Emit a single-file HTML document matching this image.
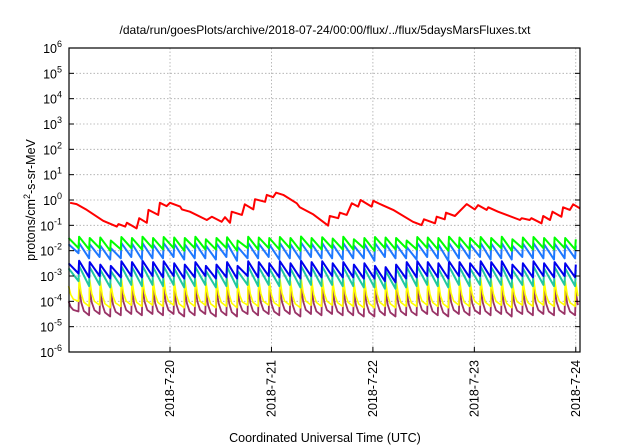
<!DOCTYPE html>
<html><head><meta charset="utf-8"><style>
body{margin:0;background:#fff;}
svg{display:block;font-family:"Liberation Sans",sans-serif;}
</style></head><body>
<svg id="chart" width="640" height="448">
<rect width="640" height="448" fill="#fff"/>
<text x="325" y="34" font-size="12" text-anchor="middle">/data/run/goesPlots/archive/2018-07-24/00:00/flux/../flux/5daysMarsFluxes.txt</text>
<g id="grid"></g>
<g id="series"></g>
<rect x="69" y="48" width="511" height="304" fill="none" stroke="#000" stroke-width="1.2"/>
<g id="axes"></g>
<text transform="translate(35,200) rotate(-90)" font-size="12.5" text-anchor="middle">protons/cm<tspan dy="-5" font-size="9">2</tspan><tspan dy="5">-s-sr-MeV</tspan></text>
<text x="325" y="442" font-size="12.5" text-anchor="middle">Coordinated Universal Time (UTC)</text>
</svg>
<script>
const yExps=[-6,-5,-4,-3,-2,-1,0,1,2,3,4,5,6];
const xTickHours=[24,48,72,96,120];
const xTickLabels=["2018-7-20","2018-7-21","2018-7-22","2018-7-23","2018-7-24"];
const redHours=[0.35,1.9,4.3,8.2,11.4,11.8,13.4,13.8,16.1,16.7,18.5,18.9,21.2,21.6,23.2,24.0,26.4,26.8,28.7,32.7,33.9,36.2,37.0,38.2,38.6,41.0,41.7,43.7,44.1,46.5,46.9,48.4,49.1,50.8,54.0,54.7,57.9,61.4,61.8,63.8,64.2,65.8,67.0,68.5,69.1,71.7,72.1,73.7,76.8,81.5,83.5,84.1,86.7,87.1,89.0,89.3,91.4,94.2,96.1,96.9,98.9,99.3,101.6,106.8,107.2,109.1,109.5,111.9,112.3,113.9,114.5,116.6,117.0,118.6,119.4,121.0];
const redLog=[-0.11,-0.16,-0.39,-0.82,-1.05,-0.95,-1.05,-0.9,-1.12,-0.72,-0.9,-0.39,-0.59,-0.11,-0.24,-0.11,-0.26,-0.37,-0.46,-0.79,-0.66,-0.86,-0.68,-0.9,-0.46,-0.59,-0.17,-0.37,0.03,-0.07,0.2,0.11,0.29,0.2,-0.13,-0.29,-0.57,-1.01,-0.63,-0.72,-0.5,-0.59,-0.13,-0.26,0.0,-0.26,-0.03,-0.16,-0.39,-0.86,-0.99,-0.76,-0.92,-0.66,-0.76,-0.5,-0.63,-0.16,-0.37,-0.2,-0.39,-0.29,-0.46,-0.79,-0.72,-0.79,-0.72,-0.92,-0.63,-0.79,-0.46,-0.66,-0.29,-0.39,-0.17,-0.33];
const cycleHours=[0,2.5,5,7.5,10,12.5,15,17.5,20,22.5,25,27.5,30,32.5,35,37.5,40,42.5,45,47.5,50,52.5,55,57.5,60,62.5,65,67.5,70,72.5,75,77.5,80,82.5,85,87.5,90,92.5,95,97.5,100,102.5,105,107.5,110,112.5,115,117.5,120];
const greenPeak=[-1.5,-1.45,-1.5,-1.48,-1.6,-1.46,-1.5,-1.45,-1.5,-1.46,-1.48,-1.5,-1.45,-1.55,-1.5,-1.47,-1.6,-1.45,-1.48,-1.5,-1.46,-1.5,-1.44,-1.5,-1.47,-1.52,-1.45,-1.55,-1.5,-1.46,-1.48,-1.5,-1.6,-1.46,-1.48,-1.5,-1.45,-1.48,-1.5,-1.46,-1.5,-1.45,-1.55,-1.48,-1.46,-1.5,-1.48,-1.5,-1.55];
const greenTrough=[-1.9,-1.95,-1.9,-2.0,-1.95,-1.9,-1.95,-1.9,-1.95,-1.9,-2.0,-1.9,-1.95,-1.95,-1.9,-2.0,-1.9,-1.95,-1.9,-1.95,-1.9,-2.0,-1.9,-1.95,-1.9,-1.95,-1.95,-1.9,-2.0,-1.9,-1.95,-1.9,-1.95,-1.9,-1.95,-2.0,-1.9,-1.95,-1.9,-1.95,-1.9,-2.0,-1.9,-1.95,-1.9,-1.95,-1.9,-1.95,-1.95];
const lblPeak=[-1.75,-1.7,-1.75,-1.8,-1.9,-1.7,-1.72,-1.7,-1.75,-1.7,-1.72,-1.75,-1.7,-1.8,-1.72,-1.7,-1.85,-1.7,-1.72,-1.75,-1.7,-1.75,-1.68,-1.72,-1.7,-1.75,-1.7,-1.8,-1.72,-1.7,-1.72,-1.75,-1.85,-1.7,-1.72,-1.75,-1.7,-1.72,-1.75,-1.7,-1.72,-1.7,-1.8,-1.72,-1.7,-1.75,-1.72,-1.75,-1.8];
const lblTrough=[-2.1,-2.3,-2.25,-2.35,-2.3,-2.25,-2.35,-2.3,-2.3,-2.25,-2.35,-2.3,-2.3,-2.35,-2.25,-2.4,-2.3,-2.3,-2.25,-2.35,-2.3,-2.35,-2.25,-2.3,-2.3,-2.35,-2.3,-2.3,-2.4,-2.25,-2.3,-2.3,-2.35,-2.25,-2.3,-2.4,-2.3,-2.3,-2.25,-2.35,-2.3,-2.35,-2.25,-2.3,-2.3,-2.35,-2.3,-2.3,-2.35];
const bluePeak=[-2.5,-2.4,-2.45,-2.55,-2.6,-2.42,-2.45,-2.4,-2.45,-2.42,-2.5,-2.55,-2.45,-2.6,-2.55,-2.45,-2.6,-2.42,-2.45,-2.5,-2.42,-2.5,-2.4,-2.45,-2.42,-2.5,-2.45,-2.55,-2.5,-2.6,-2.65,-2.55,-2.45,-2.42,-2.45,-2.5,-2.42,-2.45,-2.5,-2.42,-2.45,-2.42,-2.55,-2.5,-2.42,-2.5,-2.45,-2.5,-2.55];
const blueTrough=[-2.9,-3.05,-3.0,-3.1,-3.05,-3.0,-3.05,-3.0,-3.05,-3.0,-3.1,-3.05,-3.0,-3.1,-3.05,-3.1,-3.0,-3.05,-3.0,-3.05,-3.0,-3.1,-3.0,-3.05,-3.0,-3.05,-3.05,-3.1,-3.1,-3.2,-3.25,-3.1,-3.05,-3.0,-3.05,-3.1,-3.0,-3.05,-3.0,-3.05,-3.0,-3.1,-3.0,-3.05,-3.0,-3.05,-3.0,-3.05,-3.1];
const tealPeak=[-2.7,-2.6,-2.65,-2.75,-2.8,-2.62,-2.65,-2.6,-2.65,-2.62,-2.7,-2.72,-2.65,-2.8,-2.7,-2.65,-2.8,-2.62,-2.65,-2.7,-2.62,-2.7,-2.6,-2.65,-2.62,-2.7,-2.65,-2.75,-2.7,-2.75,-2.8,-2.7,-2.65,-2.62,-2.65,-2.7,-2.62,-2.65,-2.7,-2.62,-2.65,-2.62,-2.75,-2.7,-2.62,-2.7,-2.65,-2.7,-2.75];
const tealTrough=[-3.2,-3.4,-3.35,-3.45,-3.4,-3.35,-3.4,-3.35,-3.4,-3.35,-3.45,-3.4,-3.35,-3.45,-3.4,-3.45,-3.35,-3.4,-3.35,-3.4,-3.35,-3.45,-3.35,-3.4,-3.35,-3.4,-3.4,-3.45,-3.45,-3.5,-3.5,-3.45,-3.4,-3.35,-3.4,-3.45,-3.35,-3.4,-3.35,-3.4,-3.35,-3.45,-3.35,-3.4,-3.35,-3.4,-3.35,-3.4,-3.45];
const yelPeak=[-3.4,-3.1,-3.15,-3.2,-3.3,-3.1,-3.15,-3.1,-3.15,-3.1,-3.2,-3.15,-3.1,-3.25,-3.15,-3.1,-3.3,-3.1,-3.15,-3.2,-3.1,-3.2,-3.05,-3.15,-3.1,-3.2,-3.1,-3.25,-3.15,-3.1,-3.2,-3.15,-3.25,-3.1,-3.15,-3.2,-3.1,-3.15,-3.2,-3.1,-3.15,-3.1,-3.25,-3.15,-3.1,-3.2,-3.15,-3.2,-3.25];
const yelTrough=[-4.0,-4.2,-4.15,-4.25,-4.2,-4.15,-4.2,-4.15,-4.2,-4.15,-4.25,-4.2,-4.15,-4.25,-4.2,-4.25,-4.15,-4.2,-4.15,-4.2,-4.15,-4.25,-4.15,-4.2,-4.15,-4.2,-4.2,-4.25,-4.25,-4.2,-4.25,-4.2,-4.2,-4.15,-4.2,-4.25,-4.15,-4.2,-4.15,-4.2,-4.15,-4.25,-4.15,-4.2,-4.15,-4.2,-4.15,-4.2,-4.25];
const magPeak=[-4.0,-3.45,-3.5,-3.55,-3.6,-3.45,-3.5,-3.45,-3.5,-3.45,-3.55,-3.5,-3.45,-3.6,-3.5,-3.45,-3.6,-3.45,-3.5,-3.55,-3.45,-3.55,-3.4,-3.5,-3.45,-3.55,-3.45,-3.6,-3.5,-3.45,-3.55,-3.5,-3.6,-3.45,-3.5,-3.55,-3.45,-3.5,-3.55,-3.45,-3.5,-3.45,-3.6,-3.5,-3.45,-3.55,-3.5,-3.55,-3.6];
const magTrough=[-4.4,-4.55,-4.5,-4.6,-4.55,-4.5,-4.55,-4.5,-4.55,-4.5,-4.6,-4.55,-4.5,-4.6,-4.55,-4.6,-4.5,-4.55,-4.5,-4.55,-4.5,-4.6,-4.5,-4.55,-4.5,-4.55,-4.55,-4.6,-4.6,-4.55,-4.6,-4.55,-4.55,-4.5,-4.55,-4.6,-4.5,-4.55,-4.5,-4.55,-4.5,-4.6,-4.5,-4.55,-4.5,-4.55,-4.5,-4.55,-4.6];

const NS="http://www.w3.org/2000/svg";
const X0=69,X1=580,Y0=48,Y1=352;
const hourMin=0.1,hourMax=121.0;
function xs(h){return X0+(h-hourMin)/(hourMax-hourMin)*(X1-X0);}
function ys(lg){return Y1-(lg-(-6))/12*(Y1-Y0);}
function mk(tag,attrs,parent){const e=document.createElementNS(NS,tag);for(const k in attrs)e.setAttribute(k,attrs[k]);parent.appendChild(e);return e;}
const grid=document.getElementById('grid'),axes=document.getElementById('axes'),ser=document.getElementById('series');
yExps.forEach(p=>{
  const y=ys(p);
  if(p>-6&&p<6){const g=mk('line',{x1:X0,x2:X1,y1:y,y2:y,stroke:'#aaa','stroke-width':0.8,'stroke-dasharray':'1.5,2'},grid);
  
  }
  const t=mk('line',{x1:X0,x2:X0+5,y1:y,y2:y,stroke:'#000'},axes);
  
  
  const t2=mk('line',{x1:X1-5,x2:X1,y1:y,y2:y,stroke:'#000'},axes);
  
  
  const tx=mk('text',{x:62,y:y+5,'font-size':12.5,'text-anchor':'end'},axes);
  
  
  tx.innerHTML='10<tspan dy="-6" font-size="9">'+p+'</tspan>';
});
xTickHours.forEach((h,i)=>{
  const x=xs(h);
  const g=mk('line',{x1:x,x2:x,y1:Y0,y2:Y1,stroke:'#aaa','stroke-width':0.8,'stroke-dasharray':'1.5,2'},grid);
  
  
  const t=mk('line',{x1:x,x2:x,y1:Y1-5,y2:Y1,stroke:'#000'},axes);
  
  
  const tx=mk('text',{transform:`translate(${x+4},360) rotate(-90)`,'font-size':12.5,'text-anchor':'end'},axes);
  
  
  tx.textContent=xTickLabels[i];
});
function draw(pts,color,name,w){
  const d=pts.map((p,i)=>(i?'L':'M')+xs(p[0]).toFixed(1)+','+ys(p[1]).toFixed(1)).join('');
  const e=mk('path',{d:d,fill:'none',stroke:color,'stroke-width':w||2,'stroke-linejoin':'round'},ser);
  
  
}
function saw(peaks,troughs,curve){
  const pts=[];
  for(let i=0;i<cycleHours.length;i++){
    const t=cycleHours[i],p=peaks[i],tr=troughs[i];
    const next=i+1<cycleHours.length?cycleHours[i+1]:t+2.5;
    pts.push([t,p]);
    if(curve){pts.push([t+(next-t)*0.2,p+(tr-p)*0.55]);pts.push([t+(next-t)*0.45,p+(tr-p)*0.85]);}
    pts.push([next-0.15,tr]);
  }
  return pts.filter(q=>q[0]<=hourMax);
}
draw(saw(magPeak,magTrough,true),'#993366','series-magenta',1.8);
draw(saw(yelPeak,yelTrough,true),'#ffff00','series-yellow',1.6);
draw(saw(tealPeak,tealTrough,false),'#20c8a0','series-teal');
draw(saw(bluePeak,blueTrough,false),'#0000ee','series-blue');
draw(saw(lblPeak,lblTrough,false),'#1e78ff','series-lightblue');
draw(saw(greenPeak,greenTrough,false),'#00ff00','series-green');
draw(redHours.map((h,i)=>[h,redLog[i]]),'#ff0000','series-red');
</script>
</body></html>
